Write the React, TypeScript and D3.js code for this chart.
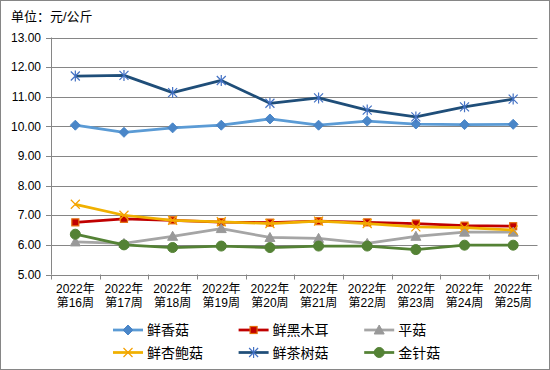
import React from "react";
import * as d3 from "d3";

const weeks = ["第16周", "第17周", "第18周", "第19周", "第20周", "第21周", "第22周", "第23周", "第24周", "第25周"];
const yearLabel = "2022年";
const yTicks = [5, 6, 7, 8, 9, 10, 11, 12, 13];

const xiangGu = [10.04, 9.8, 9.95, 10.04, 10.25, 10.04, 10.18, 10.08, 10.06, 10.07];
const heiMuEr = [6.76, 6.88, 6.83, 6.77, 6.75, 6.8, 6.76, 6.72, 6.65, 6.63];
const pingGu = [6.1, 6.05, 6.29, 6.55, 6.25, 6.22, 6.05, 6.29, 6.43, 6.43];
const xingBaoGu = [7.37, 7.0, 6.83, 6.78, 6.72, 6.8, 6.72, 6.61, 6.58, 6.5];
const chaShuGu = [11.7, 11.72, 11.14, 11.55, 10.78, 10.96, 10.55, 10.32, 10.66, 10.92];
const jinZhenGu = [6.36, 6.0, 5.91, 5.96, 5.91, 5.96, 5.96, 5.84, 5.99, 5.99];

type Marker = "diamond" | "square" | "triangle" | "x" | "star" | "circle";

const series: { name: string; values: number[]; line: string; fill: string; stroke: string; marker: Marker }[] = [
  { name: "鲜香菇", values: xiangGu, line: "#5B9BD5", fill: "#4A86C8", stroke: "#4A86C8", marker: "diamond" },
  { name: "鲜黑木耳", values: heiMuEr, line: "#C00000", fill: "#C00000", stroke: "#E46C0A", marker: "square" },
  { name: "平菇", values: pingGu, line: "#A5A5A5", fill: "#999999", stroke: "#999999", marker: "triangle" },
  { name: "鲜杏鲍菇", values: xingBaoGu, line: "#F0B000", fill: "none", stroke: "#F5A000", marker: "x" },
  { name: "鲜茶树菇", values: chaShuGu, line: "#1F4E79", fill: "none", stroke: "#4472C4", marker: "star" },
  { name: "金针菇", values: jinZhenGu, line: "#548235", fill: "#548235", stroke: "#548235", marker: "circle" },
];

const W = 550;
const H = 370;
const plot = { left: 51, right: 537.5, top: 37.5, bottom: 274.5 };
const font = "'Liberation Sans', 'Noto Sans CJK SC', sans-serif";
const grid = "#868686";

function markerShape(m: Marker, cx: number, cy: number, fill: string, stroke: string, key?: string) {
  switch (m) {
    case "diamond":
      return <path key={key} d={`M${cx},${cy - 5}L${cx + 5},${cy}L${cx},${cy + 5}L${cx - 5},${cy}Z`} fill={fill} stroke={stroke} strokeWidth={1} />;
    case "square":
      return <rect key={key} x={cx - 3.5} y={cy - 3.5} width={7} height={7} fill={fill} stroke={stroke} strokeWidth={1.2} />;
    case "triangle":
      return <path key={key} d={`M${cx},${cy - 5}L${cx + 5},${cy + 4}L${cx - 5},${cy + 4}Z`} fill={fill} stroke={stroke} strokeWidth={1} />;
    case "x":
      return <path key={key} d={`M${cx - 4.5},${cy - 4.5}L${cx + 4.5},${cy + 4.5}M${cx + 4.5},${cy - 4.5}L${cx - 4.5},${cy + 4.5}`} stroke={stroke} strokeWidth={1.2} fill="none" />;
    case "star":
      return (
        <path
          key={key}
          d={`M${cx - 4.5},${cy - 4.5}L${cx + 4.5},${cy + 4.5}M${cx + 4.5},${cy - 4.5}L${cx - 4.5},${cy + 4.5}M${cx},${cy - 5.5}L${cx},${cy + 5.5}`}
          stroke={stroke}
          strokeWidth={1.2}
          fill="none"
        />
      );
    case "circle":
      return <circle key={key} cx={cx} cy={cy} r={5} fill={fill} stroke={stroke} strokeWidth={1} />;
  }
}

export default function App() {
  const x = d3.scaleBand<string>().domain(weeks).range([plot.left, plot.right]).padding(0);
  const y = d3.scaleLinear().domain([5, 13]).range([plot.bottom, plot.top]);
  const cx = (w: string) => (x(w) as number) + x.bandwidth() / 2;

  const line = d3
    .line<number>()
    .x((_, i) => cx(weeks[i]))
    .y((d) => y(d));

  const boundaries = [...weeks.map((w) => x(w) as number), plot.right];

  return (
    <svg width={W} height={H} style={{ position: "fixed", left: 0, top: 0 }} fontFamily={font}>
      <rect x={0.5} y={0.5} width={W - 1} height={H - 1} fill="#fff" stroke={grid} />
      <text x={11} y={21} fontSize={13} fill="#000">
        单位：元/公斤
      </text>

      {yTicks.map((t) => (
        <g key={t}>
          <line x1={plot.left - 5} x2={plot.right} y1={Math.round(y(t)) + 0.5} y2={Math.round(y(t)) + 0.5} stroke={grid} />
          <text x={41} y={y(t)} dy="0.35em" textAnchor="end" fontSize={12} fill="#000">
            {t.toFixed(2)}
          </text>
        </g>
      ))}
      <line x1={plot.left + 0.5} x2={plot.left + 0.5} y1={plot.top} y2={plot.bottom} stroke={grid} />

      {boundaries.map((b, i) => (
        <line key={i} x1={Math.round(b) + 0.5} x2={Math.round(b) + 0.5} y1={plot.bottom} y2={plot.bottom + 5} stroke={grid} />
      ))}
      {weeks.map((w) => (
        <g key={w}>
          <text x={cx(w)} y={293} textAnchor="middle" fontSize={12} fill="#000">
            {yearLabel}
          </text>
          <text x={cx(w)} y={307} textAnchor="middle" fontSize={12} fill="#000">
            {w}
          </text>
        </g>
      ))}

      {series.map((s) => (
        <g key={s.name}>
          <path d={line(s.values) || ""} fill="none" stroke={s.line} strokeWidth={2.75} strokeLinejoin="round" />
          {s.values.map((v, i) => markerShape(s.marker, cx(weeks[i]), y(v), s.fill, s.stroke, String(i)))}
        </g>
      ))}

      {series.map((s, i) => {
        const col = i % 3;
        const row = Math.floor(i / 3);
        const lx = 113 + col * 125.6;
        const ly = 330 + row * 22.5;
        return (
          <g key={s.name}>
            <line x1={lx} x2={lx + 30} y1={ly} y2={ly} stroke={s.line} strokeWidth={2.75} />
            {markerShape(s.marker, lx + 15, ly, s.fill, s.stroke)}
            <text x={lx + 34} y={ly} dy="0.36em" fontSize={14} fill="#000">
              {s.name}
            </text>
          </g>
        );
      })}
    </svg>
  );
}
